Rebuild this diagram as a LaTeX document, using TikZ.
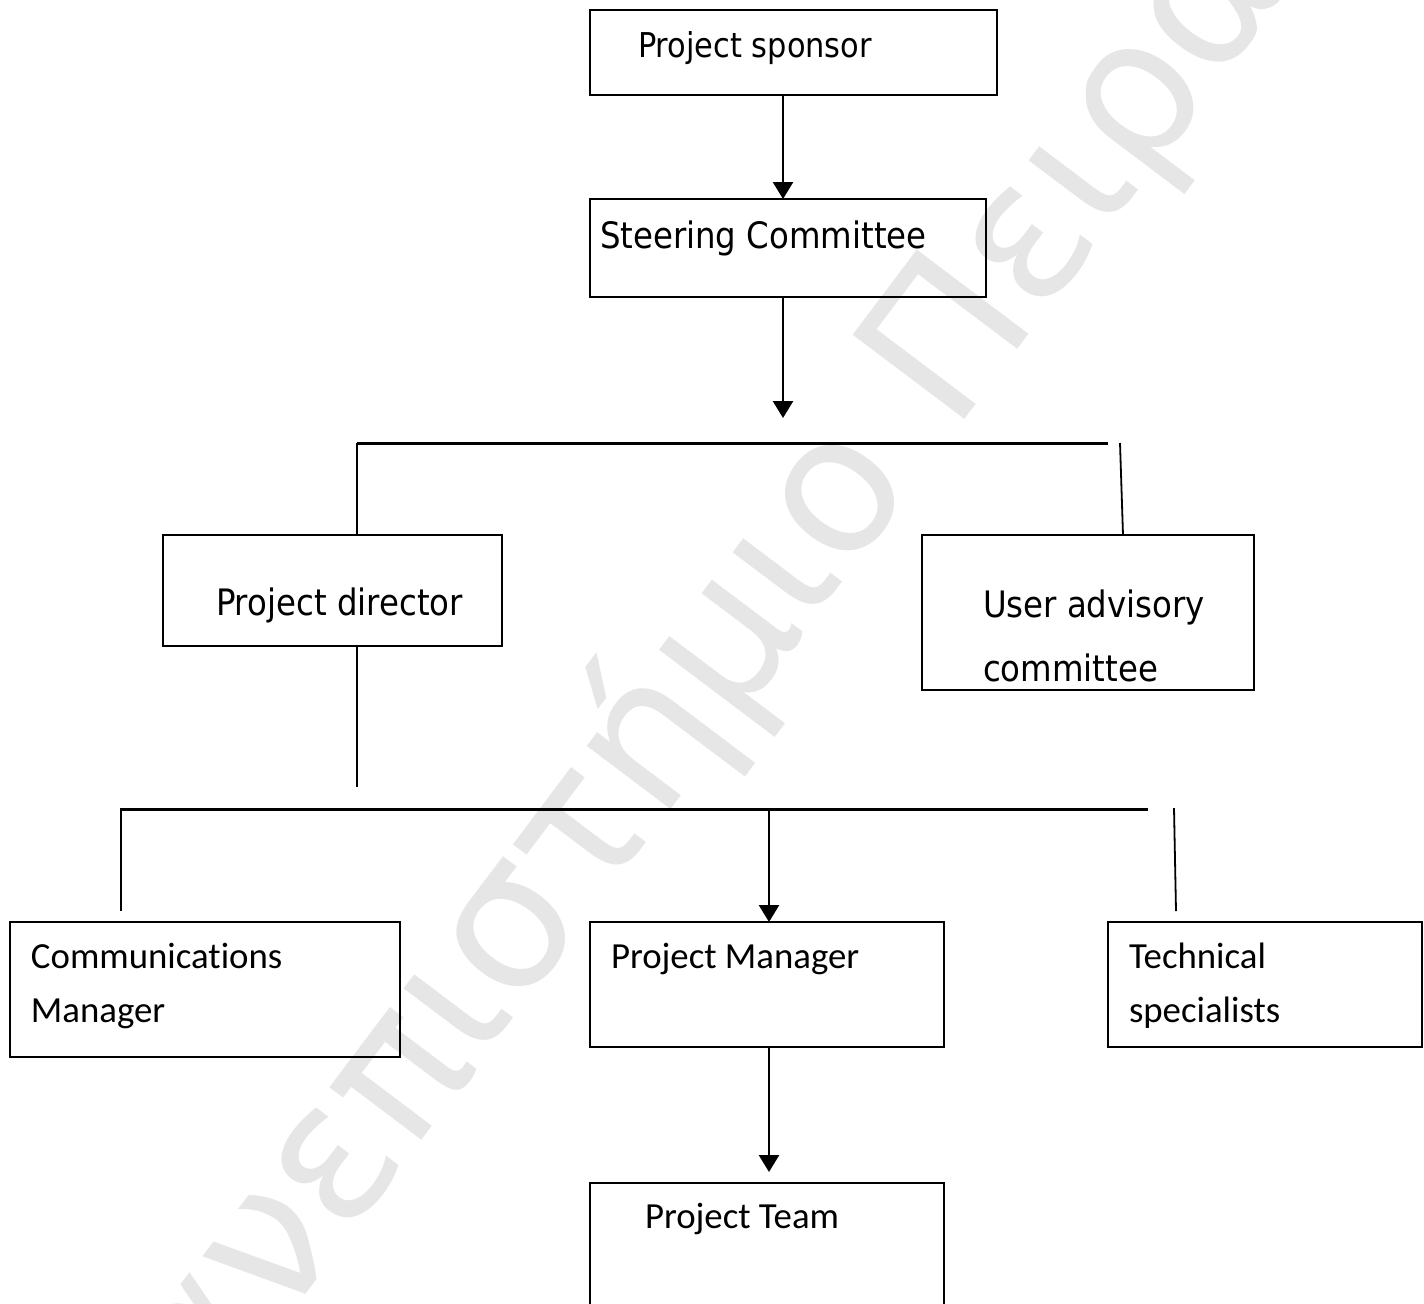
\documentclass[tikz,border=0pt]{standalone}
\usepackage{fontspec}
\usetikzlibrary{arrows.meta}
\newfontfamily\tahomaface{DejaVu Sans}[FakeStretch=0.89]
\newfontfamily\calibriface{Carlito}[RawFeature={-liga}]
\newfontfamily\markface{DejaVu Sans}
\definecolor{markgray}{HTML}{E6E6E6}
\begin{document}
\begin{tikzpicture}[x=0.5pt,y=-0.5pt,
  box/.style={draw, line width=1.2pt, inner sep=0pt, outer sep=0pt, anchor=north west},
  lbl/.style={anchor=base west, inner sep=0pt, outer sep=0pt},
  tahsmall/.style={lbl, font=\tahomaface\fontsize{17.1pt}{20pt}\selectfont},
  tah/.style={lbl, font=\tahomaface\fontsize{18.2pt}{22pt}\selectfont},
  cal/.style={lbl, font=\calibriface\fontsize{18.4pt}{22pt}\selectfont},
  arr/.style={line width=1.3pt, -{Triangle[length=8.5pt,width=10pt]}},
  bus/.style={line width=1.5pt},
  stub/.style={line width=0.9pt}]
\useasboundingbox (0,0) rectangle (1424,1303);
\clip (0,0) rectangle (1424,1303);

% faint background mark
\node[lbl, rotate=53, text=markgray, font=\markface\fontsize{96pt}{96pt}\selectfont] (mark) at (119,1542) {Πανεπιστήμιο Πειραιώς};

% boxes
\node[box, minimum width=203.5pt, minimum height=42.5pt] (sponsor) at (590,10) {};
\node[box, minimum width=198pt, minimum height=49pt] (steer) at (590,199) {};
\node[box, minimum width=169.5pt, minimum height=55.5pt] (dir) at (163,535) {};
\node[box, minimum width=166pt, minimum height=77.5pt] (user) at (922,535) {};
\node[box, minimum width=195pt, minimum height=67.5pt] (comm) at (10,922) {};
\node[box, minimum width=177pt, minimum height=62.5pt] (pm) at (590,922) {};
\node[box, minimum width=157pt, minimum height=62.5pt] (tech) at (1108,922) {};
\node[box, minimum width=177pt, minimum height=100pt] (team) at (590,1183) {};

% labels
\node[tahsmall] (sponsorlbl) at (638,57) {Project sponsor};
\node[tah] (steerlbl) at (600,248) {Steering Committee};
\node[tah] (dirlbl) at (216,615) {Project director};
\node[tah] (userlbla) at (983,617) {User advisory};
\node[tah] (userlblb) at (983,681) {committee};
\node[cal] (commlbla) at (31,968) {Communications};
\node[cal] (commlblb) at (31,1022) {Manager};
\node[cal] (pmlbl) at (611,968) {Project Manager};
\node[cal] (techlbla) at (1129,968) {Technical};
\node[cal] (techlblb) at (1129,1022) {specialists};
\node[cal] (teamlbl) at (645,1228) {Project Team};

% top chain
\coordinate (topx) at (783,0);
\draw[arr] (sponsor.south -| topx) -- (steer.north -| topx);
\coordinate (bustip) at (783,418);
\draw[arr] (steer.south -| topx) -- (bustip);

% first branch
\coordinate (busa) at (357,443);
\coordinate (busb) at (1108,443);
\draw[bus] (busa) -- (busb);
\draw[stub] (busa) -- (dir.north -| busa);
\coordinate (usertop) at (1120,443);
\coordinate (userx) at (1123,0);
\draw[stub] (usertop) -- (user.north -| userx);

% second branch
\coordinate (dirstub) at (357,787);
\draw[stub] (dir.south -| busa) -- (dirstub);
\coordinate (bustwoa) at (120,809);
\coordinate (bustwob) at (1148,809);
\draw[bus] (bustwoa) -- (bustwob);
\coordinate (lefttop) at (121,809);
\coordinate (leftend) at (121,911);
\draw[stub] (lefttop) -- (leftend);
\coordinate (midx) at (769,809);
\draw[arr] (midx) -- (pm.north -| midx);
\coordinate (righttop) at (1174,808);
\coordinate (rightend) at (1176,911);
\draw[stub] (righttop) -- (rightend);

% down to the team
\coordinate (teamtip) at (769,1172);
\draw[arr] (pm.south -| midx) -- (teamtip);
\end{tikzpicture}
\end{document}
